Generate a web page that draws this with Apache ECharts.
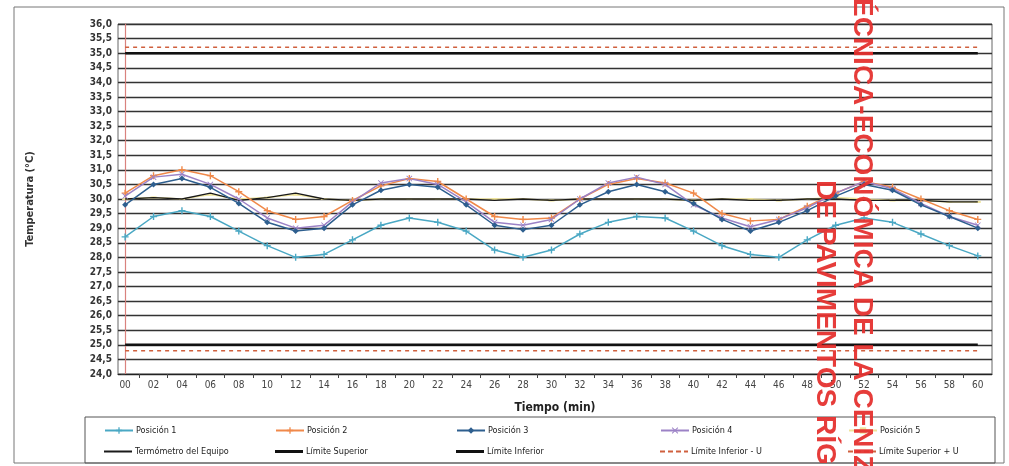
<!DOCTYPE html>
<html>
<head>
<meta charset="utf-8">
<script src="https://cdn.jsdelivr.net/npm/echarts@6/dist/echarts.min.js"></script>
<style>html,body{margin:0;padding:0;background:#fff}#c{width:1009px;height:466px}</style>
</head>
<body>
<div id="c"></div>
<script>
// ---- data ----
const tickLabels = ['00','02','04','06','08','10','12','14','16','18','20','22','24','26','28','30','32','34','36','38','40','42','44','46','48','50','52','54','56','58','60'];
const pos1 = [28.7,29.4,29.6,29.4,28.9,28.4,28.0,28.1,28.6,29.1,29.35,29.2,28.9,28.25,28.0,28.25,28.8,29.2,29.4,29.35,28.9,28.4,28.1,28.0,28.6,29.1,29.35,29.2,28.8,28.4,28.05];
const pos2 = [30.2,30.8,31.0,30.8,30.25,29.6,29.3,29.4,29.95,30.45,30.7,30.6,30.0,29.4,29.3,29.35,30.0,30.5,30.7,30.55,30.2,29.5,29.25,29.3,29.75,30.2,30.6,30.4,30.0,29.6,29.3];
const pos3 = [29.8,30.5,30.7,30.4,29.85,29.2,28.9,29.0,29.8,30.3,30.5,30.4,29.8,29.1,28.95,29.1,29.8,30.25,30.5,30.25,29.85,29.3,28.9,29.2,29.6,30.1,30.5,30.3,29.8,29.4,29.0];
const pos4 = [30.1,30.75,30.85,30.5,30.0,29.35,29.0,29.1,29.9,30.55,30.7,30.5,29.9,29.2,29.1,29.3,30.0,30.55,30.75,30.5,29.8,29.35,29.05,29.3,29.7,30.2,30.6,30.35,29.85,29.4,29.1];
const pos5 = [30.0,30.05,30.0,30.15,30.0,30.05,30.15,30.0,29.95,30.0,30.0,30.0,30.0,30.0,30.0,29.95,30.0,30.0,30.0,30.0,29.95,30.0,30.0,29.95,30.0,30.05,30.0,29.95,29.95,29.9,29.9];
const termo = [30.0,30.05,30.0,30.2,29.95,30.05,30.2,30.0,29.95,30.0,30.0,30.0,30.0,29.95,30.0,29.95,30.0,30.0,30.0,30.0,29.95,30.0,29.95,29.95,30.0,30.0,29.95,29.95,29.95,29.9,29.9];
const limSup = 35.0;
const limInf = 25.0;
const limSupU = 35.2;
const limInfU = 24.8;
const seriesNames = ['Posición 1','Posición 2','Posición 3','Posición 4','Posición 5',
  'Termómetro del Equipo','Límite Superior','Límite Inferior','Límite Inferior - U','Límite Superior + U'];
const yTitle = 'Temperatura (°C)';
const xTitle = 'Tiempo (min)';
const watermark1 = 'ÉCNICA-ECONÓMICA DE LA CENIZ';
const watermark2 = 'DE PAVIMENTOS RÍG';

// ---- build ----
const minutes = tickLabels.map(t => parseInt(t, 10));
const pairs = arr => minutes.map((m, i) => [m, arr[i]]);
const constant = v => minutes.map(m => [m, v]);
const FONT = '"Liberation Sans Narrow","DejaVu Sans Condensed",Arial,sans-serif';
const plus = 'path://M4,0h2v4h4v2h-4v4h-2v-4h-4v-2h4z';
const cross = 'path://M1,0L5,4L9,0L10,1L6,5L10,9L9,10L5,6L1,10L0,9L4,5L0,1z';
const solidIcon = 'path://M0,0h28v2h-28z';
const thickIcon = 'path://M0,0h28v3h-28z';
const dashIcon = 'path://M0,0h5v2h-5zM8,0h5v2h-5zM16,0h5v2h-5zM24,0h4v2h-4z';

function line(name, data, color, opts) {
  opts = opts || {};
  return {
    name: name, type: 'line', data: data,
    symbol: opts.symbol || 'none', symbolSize: opts.symbolSize || 6,
    showSymbol: !!opts.symbol,
    lineStyle: { color: color, width: opts.width || 1.5, type: opts.dash || 'solid' },
    itemStyle: { color: color },
    z: opts.z || 3, animation: false, silent: true
  };
}

const series = [
  line(seriesNames[4], pairs(pos5), '#efe49a', {symbol: 'rect', symbolSize: [6, 2], z: 2}),
  line(seriesNames[5], pairs(termo), '#1a1a1a', {width: 1.3, z: 3}),
  line(seriesNames[0], pairs(pos1), '#4aa8c4', {symbol: plus, symbolSize: 7, z: 4}),
  line(seriesNames[1], pairs(pos2), '#f0894a', {symbol: plus, symbolSize: 7, z: 4}),
  line(seriesNames[2], pairs(pos3), '#2e5f8f', {symbol: 'diamond', symbolSize: 6, z: 5}),
  line(seriesNames[3], pairs(pos4), '#9c82c6', {symbol: cross, symbolSize: 6, z: 4}),
  line(seriesNames[6], constant(limSup), '#111', {width: 2.5, z: 3}),
  line(seriesNames[7], constant(limInf), '#111', {width: 2.5, z: 3}),
  line(seriesNames[8], constant(limInfU), '#d0603e', {width: 1.5, dash: [4, 4], z: 3}),
  line(seriesNames[9], constant(limSupU), '#d0603e', {width: 1.5, dash: [4, 4], z: 3})
];

// legend layout: 5 columns x 2 rows
const colX = [104, 275, 456, 660, 848];
const rowY = [426, 447];
const legendIcons = [null, null, null, null, null, solidIcon, thickIcon, thickIcon, dashIcon, dashIcon];
const legends = seriesNames.map((nm, i) => {
  const item = { name: nm };
  if (legendIcons[i]) item.icon = legendIcons[i];
  return {
    data: [item],
    left: colX[i % 5], top: rowY[Math.floor(i / 5)],
    itemWidth: 28, itemHeight: 8, itemGap: 0, padding: 0,
    textStyle: { fontFamily: FONT, fontSize: 9, color: '#222', padding: [0, 0, 0, -2] },
    selectedMode: false
  };
});

const chart = echarts.init(document.getElementById('c'), null, {renderer: 'canvas'});
chart.setOption({
  backgroundColor: '#fff',
  animation: false,
  grid: { left: 118, right: 17, top: 24, bottom: 92, show: true, borderColor: '#666', borderWidth: 1 },
  xAxis: {
    type: 'value', min: -0.5, max: 61,
    name: xTitle, nameLocation: 'middle', nameGap: 28,
    nameTextStyle: { fontFamily: FONT, fontSize: 12, fontWeight: 'bold', color: '#222' },
    axisLine: { show: true, onZero: false, lineStyle: { color: '#222', width: 1.2 } },
    axisTick: { show: true, length: 4, customValues: minutes.slice(0, -1).map(m => m + 1), lineStyle: { color: '#444' } },
    axisLabel: { customValues: minutes, formatter: v => tickLabels[minutes.indexOf(v)] || '',
      fontFamily: FONT, fontSize: 10, color: '#444', margin: 6 },
    splitLine: { show: false }
  },
  yAxis: {
    type: 'value', min: 24, max: 36, interval: 0.5,
    name: yTitle, nameLocation: 'middle', nameGap: 82, nameRotate: 90,
    nameTextStyle: { fontFamily: FONT, fontSize: 11, fontWeight: 'bold', color: '#333' },
    axisLine: { show: true, lineStyle: { color: '#d9827e', width: 1.2 } },
    axisTick: { show: true, length: 4, lineStyle: { color: '#333' } },
    axisLabel: { formatter: v => v.toFixed(1).replace('.', ','), fontFamily: FONT, fontSize: 10, fontWeight: 'bold', color: '#333', margin: 6 },
    splitLine: { show: true, lineStyle: { color: '#333', width: 1.3 } }
  },
  legend: legends,
  series: series,
  graphic: [
    { type: 'rect', shape: { x: 14, y: 7, width: 990, height: 456 }, style: { fill: null, stroke: '#777', lineWidth: 1 }, silent: true, z: 0 },
    { type: 'rect', shape: { x: 85, y: 417, width: 910, height: 46 }, style: { fill: null, stroke: '#555', lineWidth: 1 }, silent: true, z: 0 },
    { type: 'text', x: 862, y: -2, rotation: -Math.PI / 2, style: { text: watermark1, fill: '#e5322f', font: 'bold 28px "Liberation Sans", Arial, sans-serif', textAlign: 'left', textVerticalAlign: 'middle', opacity: 0.95 }, silent: true, z: 100 },
    { type: 'text', x: 825, y: 180, rotation: -Math.PI / 2, style: { text: watermark2, fill: '#e5322f', font: 'bold 28px "Liberation Sans", Arial, sans-serif', textAlign: 'left', textVerticalAlign: 'middle', opacity: 0.95 }, silent: true, z: 100 }
  ]
});
</script>
</body>
</html>
